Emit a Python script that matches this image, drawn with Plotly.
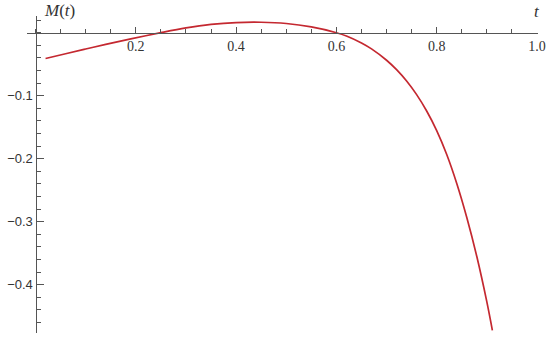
import plotly.graph_objects as go

# values
t_vals = [0.02, 0.06, 0.10, 0.14, 0.19, 0.25, 0.30, 0.35, 0.40, 0.45,
          0.50, 0.55, 0.60, 0.62, 0.65, 0.67, 0.70, 0.72, 0.74, 0.76,
          0.78, 0.80, 0.82, 0.84, 0.86, 0.88, 0.90, 0.911]
m_vals = [-0.041, -0.0334, -0.0259, -0.0186, -0.0098, 0.0001, 0.0076, 0.0131, 0.0161, 0.0166,
          0.0146, 0.0091, 0.0, -0.0052, -0.0163, -0.0257, -0.0437, -0.0587, -0.0767, -0.0983,
          -0.1243, -0.1553, -0.1933, -0.2393, -0.2933, -0.3553, -0.4273, -0.4724]

x_ticks = [0.2, 0.4, 0.6, 0.8, 1.0]
x_labels = ["0.2", "0.4", "0.6", "0.8", "1.0"]
y_ticks = [-0.1, -0.2, -0.3, -0.4]
y_labels = ["\u22120.1", "\u22120.2", "\u22120.3", "\u22120.4"]

x_range = [-0.017, 1.002]
y_range = [-0.4766, 0.0265]

axis_col = "#555555"
curve_col = "rgb(196,40,48)"

fig = go.Figure(go.Scatter(
    x=t_vals, y=m_vals, mode="lines",
    line=dict(color=curve_col, width=1.7, shape="spline", smoothing=1.0),
    hoverinfo="skip"))

# axes cross at the origin
x_pos = (0 - y_range[0]) / (y_range[1] - y_range[0])
y_pos = (0 - x_range[0]) / (x_range[1] - x_range[0])

fig.update_xaxes(
    range=x_range, anchor="free", position=x_pos,
    showgrid=False, zeroline=False,
    showline=True, linecolor=axis_col, linewidth=1.2,
    ticks="inside", ticklen=6, tickwidth=1.2, tickcolor=axis_col,
    tickvals=x_ticks, ticktext=x_labels, ticklabeloverflow="allow",
    tickfont=dict(family="Liberation Serif", size=14, color="#333333"),
    minor=dict(ticks="inside", dtick=0.05, tick0=0, ticklen=3.5,
               tickwidth=1, tickcolor=axis_col, showgrid=False),
    automargin=False)

fig.update_yaxes(
    range=y_range, anchor="free", position=y_pos,
    showgrid=False, zeroline=False,
    showline=True, linecolor=axis_col, linewidth=1.2,
    ticks="inside", ticklen=7, tickwidth=1.2, tickcolor=axis_col,
    tickvals=y_ticks, ticktext=y_labels, ticklabeloverflow="allow",
    tickfont=dict(family="Liberation Sans", size=13, color="#333333"),
    minor=dict(ticks="inside", dtick=0.02, tick0=0, ticklen=4,
               tickwidth=1, tickcolor=axis_col, showgrid=False),
    automargin=False)

# axis labels, placed in paper coordinates above the plot area
fig.add_annotation(x=0.029, y=1.016, xref="paper", yref="paper",
                   xanchor="left", yanchor="middle",
                   text="<i>M</i>(<i>t</i>)", showarrow=False,
                   font=dict(family="Liberation Serif", size=17, color="#333333"))
fig.add_annotation(x=0.998, y=1.013, xref="paper", yref="paper",
                   xanchor="center", yanchor="middle",
                   text="<i>t</i>", showarrow=False,
                   font=dict(family="Liberation Serif", size=17, color="#333333"))

fig.update_layout(
    width=550, height=339,
    margin=dict(l=27, r=12, t=16, b=6),
    paper_bgcolor="white", plot_bgcolor="white",
    showlegend=False)

# drop the default body margin so the figure fills the window exactly
fig.write_html("out.html",
               config={"displayModeBar": False},
               post_script="document.body.style.margin='0';document.body.style.overflow='hidden';")
